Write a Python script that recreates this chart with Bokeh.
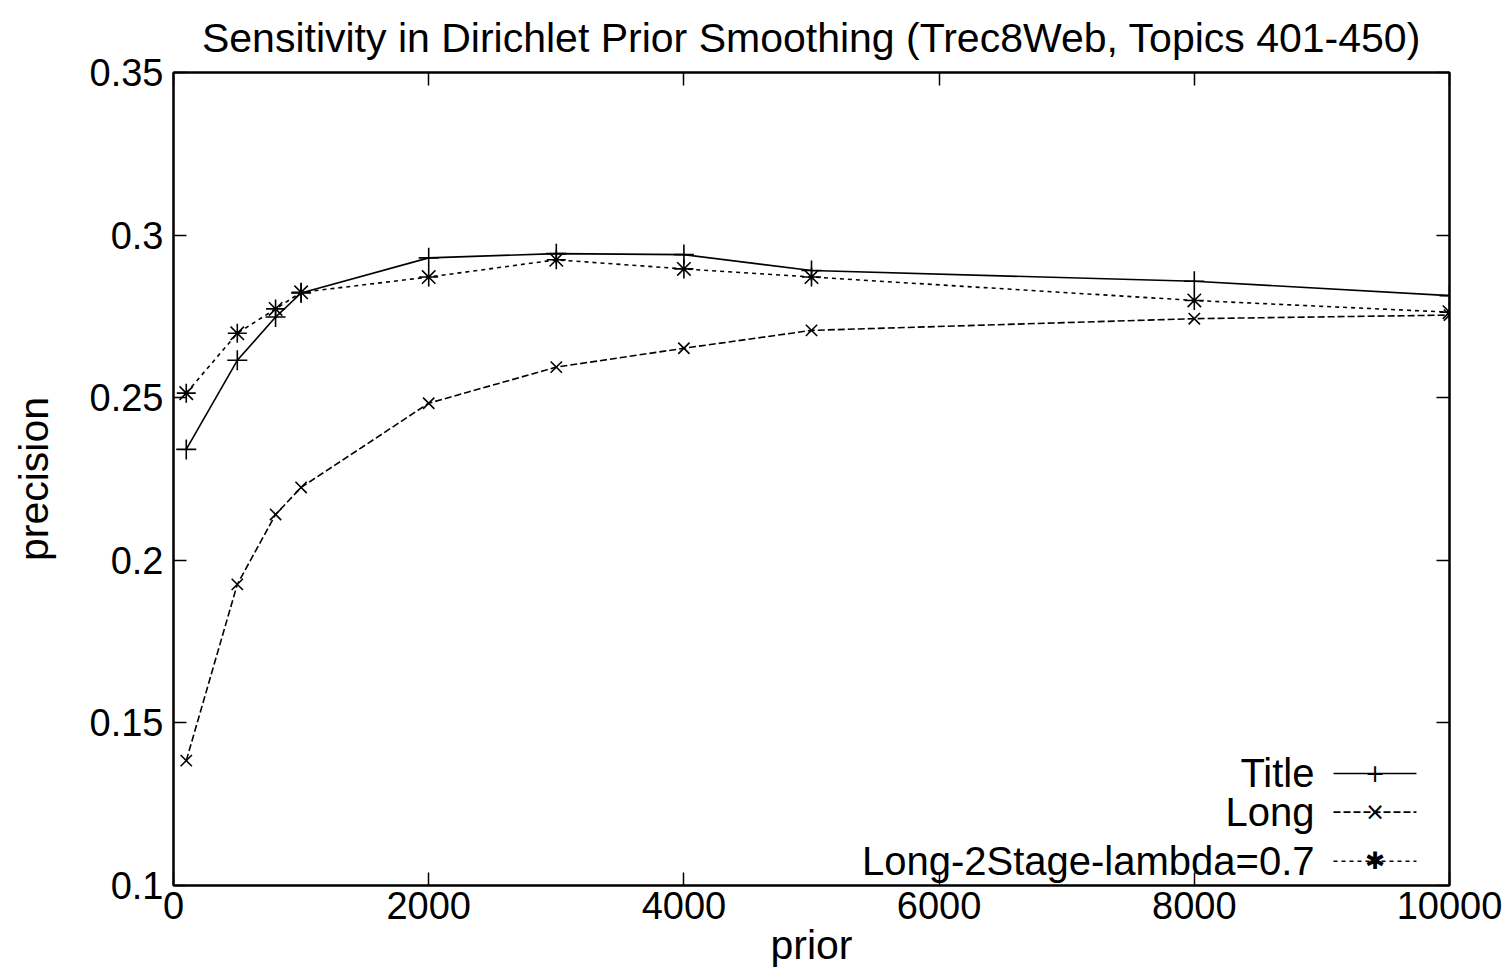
from bokeh.plotting import figure
from bokeh.models import Range1d, FixedTicker, LinearAxis, Label, Arrow
from bokeh.embed import file_html
from bokeh.resources import INLINE

# ---- data ----
prior = [100, 500, 800, 1000, 2000, 3000, 4000, 5000, 8000, 10000]
title_prec = [0.2341, 0.2615, 0.2748, 0.2822, 0.2930, 0.2943, 0.2940, 0.2891, 0.2858, 0.2814]
long_prec = [0.1384, 0.1926, 0.2141, 0.2224, 0.2483, 0.2594, 0.2652, 0.2707, 0.2743, 0.2754]
long2_prec = [0.2514, 0.2698, 0.2773, 0.2824, 0.2871, 0.2924, 0.2896, 0.2871, 0.2799, 0.2763]
series_names = ["Title", "Long", "Long-2Stage-lambda=0.7"]
x_ticks = [0, 2000, 4000, 6000, 8000, 10000]
x_tick_labels = ["0", "2000", "4000", "6000", "8000", "10000"]
y_ticks = [0.1, 0.15, 0.2, 0.25, 0.3, 0.35]
y_tick_labels = ["0.1", "0.15", "0.2", "0.25", "0.3", "0.35"]

FONT = "Liberation Sans"
X0, X1 = 0, 10000
Y0, Y1 = 0.1, 0.35

p = figure(width=1503, height=970, output_backend="svg", toolbar_location=None,
           x_range=Range1d(X0, X1), y_range=Range1d(Y0, Y1),
           min_border_left=173, min_border_right=54, min_border_top=72, min_border_bottom=80,
           title="Sensitivity in Dirichlet Prior Smoothing (Trec8Web, Topics 401-450)")
p.background_fill_color = "white"
p.border_fill_color = "white"
p.outline_line_color = "black"
p.outline_line_width = 2
p.xgrid.visible = False
p.ygrid.visible = False

p.title.text_font = FONT
p.title.text_font_size = "41px"
p.title.text_font_style = "normal"
p.title.align = "center"
p.title.text_color = "black"
p.title.standoff = 23

def style_axis(ax, show_labels):
    ax.axis_line_color = "black"
    ax.axis_line_width = 2
    ax.major_tick_in = 13
    ax.major_tick_out = 0
    ax.major_tick_line_width = 1.5
    ax.minor_tick_line_color = None
    ax.major_label_text_font = FONT
    ax.major_label_text_color = "black"
    if show_labels:
        ax.major_label_text_font_size = "38px"
    else:
        ax.major_label_text_font_size = "1px"
        ax.major_label_standoff = 0

p.xaxis.ticker = FixedTicker(ticks=x_ticks)
p.xaxis.major_label_overrides = dict(zip(x_ticks, x_tick_labels))
p.yaxis.ticker = FixedTicker(ticks=y_ticks)
p.yaxis.major_label_overrides = dict(zip(y_ticks, y_tick_labels))
style_axis(p.xaxis[0], True)
style_axis(p.yaxis[0], True)
p.xaxis.major_label_standoff = 6
p.yaxis.major_label_standoff = 10
p.xaxis.axis_label = "prior"
p.yaxis.axis_label = "precision"
for ax in (p.xaxis[0], p.yaxis[0]):
    ax.axis_label_text_font = FONT
    ax.axis_label_text_font_size = "41px"
    ax.axis_label_text_font_style = "normal"
    ax.axis_label_text_color = "black"
p.xaxis.axis_label_standoff = 0
p.yaxis.axis_label_standoff = 30

top = LinearAxis(ticker=FixedTicker(ticks=x_ticks),
                 major_label_overrides={t: "" for t in x_ticks})
style_axis(top, False)
right = LinearAxis(ticker=FixedTicker(ticks=y_ticks),
                   major_label_overrides={t: "" for t in y_ticks})
style_axis(right, False)
p.add_layout(top, "above")
p.add_layout(right, "right")

# ---- series ----
styles = [
    dict(dash="solid", marker="cross", size=20),
    dict(dash="7 3", marker="x", size=16),
    dict(dash="4 4", marker="asterisk", size=19),
]
ys = [title_prec, long_prec, long2_prec]
for yv, st in zip(ys, styles):
    p.line(prior, yv, line_color="black", line_width=1.6, line_dash=st["dash"])
    p.scatter(prior, yv, marker=st["marker"], size=st["size"], line_color="black",
              fill_color=None, line_width=1.6)

# ---- gnuplot-style legend (text right, sample on the right) ----
xs_span = X1 - X0
ys_span = Y1 - Y0
text_right = X0 + 0.8942 * xs_span
samp_a = X0 + 0.9091 * xs_span
samp_b = X0 + 0.9741 * xs_span
row_y = [Y0 + 0.1378 * ys_span, Y0 + 0.0902 * ys_span, Y0 + 0.0298 * ys_span]
glyph_chars = ["+", "\u00d7", "\u2731"]
for name, st, ry, ch in zip(series_names, styles, row_y, glyph_chars):
    p.add_layout(Label(x=text_right, y=ry, text=name, text_align="right",
                       text_baseline="middle", text_font=FONT, text_font_size="40px",
                       text_color="black"))
    p.add_layout(Arrow(x_start=samp_a, y_start=ry, x_end=samp_b, y_end=ry, start=None, end=None,
                       line_color="black", line_width=1.6, line_dash=st["dash"]))
    p.add_layout(Label(x=(samp_a + samp_b) / 2, y=ry, text=ch, text_align="center",
                       text_baseline="middle", text_font="DejaVu Sans", text_font_size="24px",
                       text_color="black"))

open("out.html", "w").write(file_html(p, INLINE))
